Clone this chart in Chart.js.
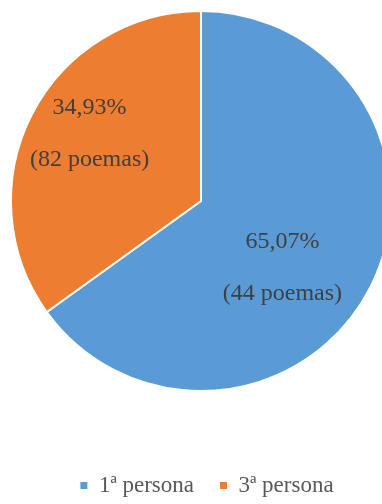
<!DOCTYPE html>
<html>
<head>
<meta charset="utf-8">
<script src="https://cdn.jsdelivr.net/npm/chart.js@4/dist/chart.umd.min.js"></script>
<style>
  html, body { margin: 0; padding: 0; background: #fff; overflow: hidden; width: 382px; height: 504px; }
  #wrap { position: absolute; left: 0; top: 0; width: 402px; height: 507px; }
</style>
</head>
<body>
<div id="wrap"><canvas id="c" width="402" height="507"></canvas></div>
<script>
const categories = ['1ª persona', '3ª persona'];
const percentages = [65.07, 34.93];
const poemCounts = [44, 82];

const sliceColors = ['#5B9BD5', '#ED7D31'];
// label placement: offset from slice mid-angle (deg) and fraction of radius
const labelAngleOffset = [14.8, 1.5];
const labelRadiusFrac = [0.576, 0.668];

const sliceLabels = {
  id: 'sliceLabels',
  afterDatasetsDraw(chart) {
    const ctx = chart.ctx;
    const meta = chart.getDatasetMeta(0);
    ctx.save();
    ctx.font = '24px "Liberation Serif", "Times New Roman", serif';
    ctx.fillStyle = '#404040';
    ctx.textAlign = 'center';
    ctx.textBaseline = 'alphabetic';
    meta.data.forEach((arc, i) => {
      const p = arc.getProps(['x', 'y', 'startAngle', 'endAngle', 'outerRadius'], true);
      const mid = (p.startAngle + p.endAngle) / 2 + labelAngleOffset[i] * Math.PI / 180;
      const r = p.outerRadius * labelRadiusFrac[i];
      const ax = p.x + Math.cos(mid) * r;
      const ay = p.y + Math.sin(mid) * r;
      const gap = 52;
      const pct = percentages[i].toFixed(2).replace('.', ',') + '%';
      const cnt = '(' + poemCounts[i] + ' poemas)';
      ctx.fillText(pct, ax, ay - gap / 2);
      ctx.fillText(cnt, ax, ay + gap / 2);
    });
    ctx.restore();
  },
  afterLayout(chart) {
    if (chart.legend) { chart.legend.left += 6; chart.legend.right += 6; }
  }
};

new Chart(document.getElementById('c'), {
  type: 'pie',
  data: {
    labels: categories,
    datasets: [{
      data: percentages,
      backgroundColor: sliceColors,
      borderColor: '#ffffff',
      borderWidth: 2
    }]
  },
  options: {
    responsive: false,
    animation: false,
    layout: { padding: { top: 10, left: 10, right: 10, bottom: 0 } },
    plugins: {
      tooltip: { enabled: false },
      legend: {
        position: 'bottom',
        title: { display: true, text: ' ', font: { size: 10, lineHeight: 1 }, padding: { top: 46, bottom: 0 } },
        labels: {
          boxWidth: 7,
          boxHeight: 7,
          padding: 26,
          color: '#595959',
          font: { family: '"Liberation Serif", "Times New Roman", serif', size: 23 },
          generateLabels: (chart) => categories.map((c, i) => ({
            text: c, fillStyle: sliceColors[i], strokeStyle: sliceColors[i], lineWidth: 0,
            hidden: false, index: i, fontColor: '#595959'
          }))
        }
      }
    }
  },
  plugins: [sliceLabels]
});
</script>
</body>
</html>
